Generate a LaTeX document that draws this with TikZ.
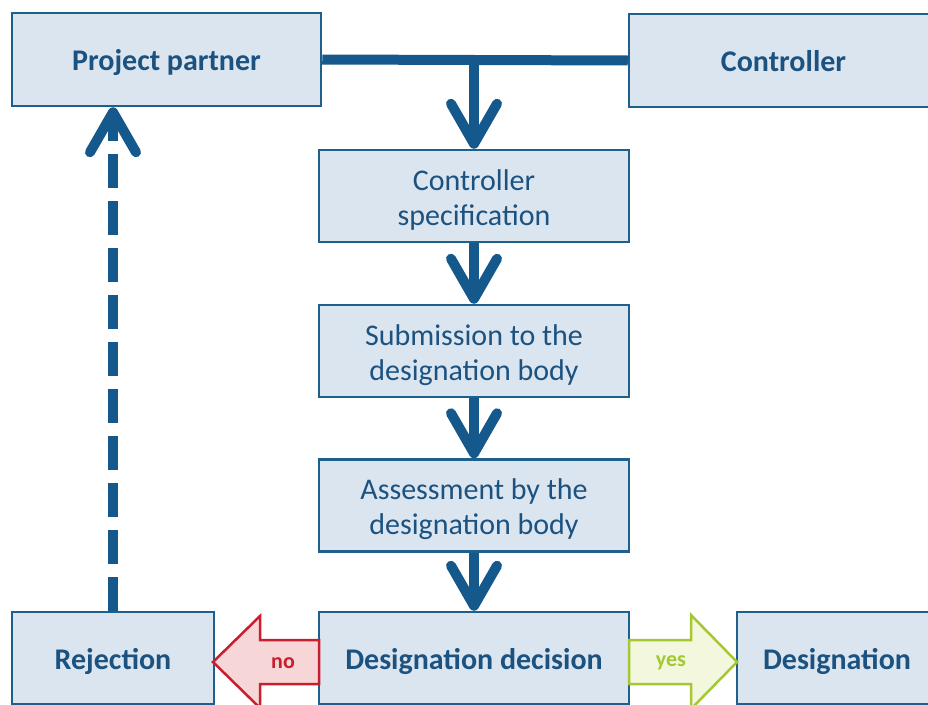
\documentclass[tikz,border=0pt]{standalone}
\usepackage{fontspec}
\setmainfont{Carlito}
\usetikzlibrary{arrows.meta}

\definecolor{boxfill}{RGB}{219,229,240}
\definecolor{boxline}{RGB}{31,95,139}
\definecolor{txtblue}{RGB}{28,82,128}
\definecolor{arrblue}{RGB}{20,88,140}
\definecolor{nored}{RGB}{200,30,45}
\definecolor{nofill}{RGB}{246,214,214}
\definecolor{yesgreen}{RGB}{165,200,50}
\definecolor{yesfill}{RGB}{242,247,222}

\tikzset{
  box/.style={draw=boxline,line width=2.5pt,fill=boxfill,text=txtblue,
    minimum width=310pt,minimum height=92pt,align=center,
    text height=64pt,text depth=6pt,
    font=\fontsize{30}{35}\selectfont},
  titlebox/.style={box,text height=23pt,text depth=1pt,
    font=\fontsize{30}{35}\selectfont\bfseries},
  flow/.style={draw=arrblue,line width=10pt,
    -{Straight Barb[length=40pt,width=46pt,round]}},
  dashflow/.style={flow,dash pattern=on 34pt off 13pt}
}

\begin{document}
\begin{tikzpicture}[x=1pt,y=-1pt]
\clip (0,0) rectangle (928,704);

\node[titlebox,minimum width=309pt,minimum height=93pt] (pp) at (166.5,59.5) {Project partner};
\node[titlebox,minimum width=309pt,minimum height=93pt] (ctrl) at (783.5,60.5) {Controller};

\node[box] (spec) at (474,196) {Controller\\specification};
\node[box] (sub) at (474,351) {Submission to the\\designation body};
\node[box] (ass) at (474,505.5) {Assessment by the\\designation body};

\node[titlebox] (dec) at (474,658) {Designation decision};
\node[titlebox,minimum width=202pt] (rej) at (113,658) {Rejection};
\node[titlebox,minimum width=200pt] (des) at (837,658) {Designation};

% top bar and the way down
\draw[arrblue,line width=10pt] (pp.east) -- (ctrl.west);
\coordinate (jn) at (pp.east -| spec.north);
\draw[flow] (jn) -- (spec.north);
\draw[flow] (spec.south) -- (sub.north);
\draw[flow] (sub.south) -- (ass.north);
\draw[flow] (ass.south) -- (dec.north);

% back to the partner
\draw[dashflow] (rej.north) -- (pp.south -| rej.north);

% no / yes
\draw[draw=nored,fill=nofill,line width=2.5pt,line join=miter]
  (319,640) -- (260,640) -- (260,616) -- (213,662) -- (260,708) -- (260,684) -- (319,684) -- cycle;
\node[text=nored,font=\fontsize{22}{26}\selectfont\bfseries] (no) at (283,663) {no};

\draw[draw=yesgreen,fill=yesfill,line width=2.5pt,line join=miter]
  (629,640) -- (691,640) -- (691,615) -- (737,662) -- (691,709) -- (691,684) -- (629,684) -- cycle;
\node[text=yesgreen,font=\fontsize{22}{26}\selectfont\bfseries] (yes) at (671,663) {yes};

\end{tikzpicture}
\end{document}
